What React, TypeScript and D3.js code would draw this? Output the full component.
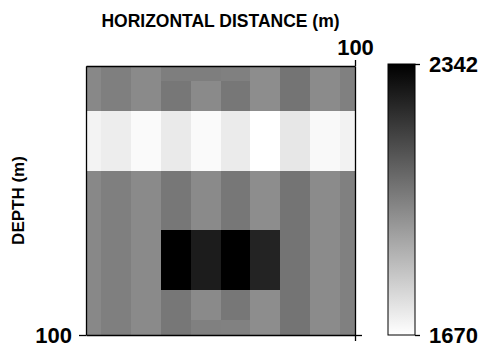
import React, { useRef, useEffect } from 'react';
import * as d3 from 'd3';

// cell centres (m)
const distances = [0, 11.1, 22.2, 33.3, 44.4, 55.6, 66.7, 77.8, 88.9, 100];
const depths = [0, 11.1, 22.2, 33.3, 44.4, 55.6, 66.7, 77.8, 88.9, 100];

// velocity per depth row (m/s), read from the grey levels
const velocity = [
    [1984, 2007, 1978, 2010, 2010, 2005, 1970, 2036, 1976, 2005],
    [1984, 2007, 1978, 2028, 1978, 2028, 1970, 2036, 1976, 2005],
    [1702, 1717, 1683, 1725, 1683, 1723, 1670, 1733, 1686, 1704],
    [1702, 1717, 1683, 1725, 1683, 1723, 1670, 1733, 1686, 1704],
    [1984, 2007, 1978, 2028, 1978, 2028, 1970, 2036, 1976, 2005],
    [1984, 2007, 1978, 2028, 1978, 2028, 1970, 2036, 1976, 2005],
    [1984, 2007, 1978, 2342, 2268, 2342, 2250, 2036, 1976, 2005],
    [1984, 2007, 1978, 2342, 2268, 2342, 2250, 2036, 1976, 2005],
    [1984, 2007, 1978, 2028, 1978, 2028, 1970, 2036, 1976, 2005],
    [1984, 2007, 1978, 2028, 2005, 2002, 1970, 2036, 1976, 2005]
];

const colorMin = 1670;
const colorMax = 2342;
const axisTicks = [100];

// cell edges: halfway between neighbouring centres, clipped to the axis
const edges = (centres: number[]) => centres.map((c, i) => [
    i === 0 ? 0 : (centres[i - 1] + c) / 2,
    i === centres.length - 1 ? 100 : (c + centres[i + 1]) / 2
]);

const App: React.FC = () => {
    const svgRef = useRef<SVGSVGElement | null>(null);

    useEffect(() => {
        const svg = d3.select(svgRef.current);
        svg.selectAll('*').remove();
        const width = 485;
        const height = 350;
        const font = 'Liberation Sans, Arial, sans-serif';

        svg.attr('width', width).attr('height', height).style('display', 'block');

        const x = d3.scaleLinear().domain([0, 100]).range([86, 355]);
        const y = d3.scaleLinear().domain([0, 100]).range([66, 335]);
        const color = d3.scaleLinear<string>()
            .domain([colorMin, colorMax])
            .range(['#ffffff', '#000000']);

        const xe = edges(distances);
        const ye = edges(depths);

        const cells = [];
        depths.forEach((d, i) => {
            distances.forEach((h, j) => {
                cells.push({
                    x0: Math.round(x(xe[j][0])), x1: Math.round(x(xe[j][1])),
                    y0: Math.round(y(ye[i][0])), y1: Math.round(y(ye[i][1])),
                    v: velocity[i][j]
                });
            });
        });

        svg.append('g')
            .attr('shape-rendering', 'crispEdges')
            .selectAll('rect')
            .data(cells)
            .enter()
            .append('rect')
            .attr('x', c => c.x0)
            .attr('y', c => c.y0)
            .attr('width', c => c.x1 - c.x0)
            .attr('height', c => c.y1 - c.y0)
            .attr('fill', c => color(c.v));

        // axes / frame
        const styleAxis = (g, showText) => {
            g.selectAll('path').attr('stroke', '#000').attr('stroke-width', 1.3);
            g.selectAll('line').attr('stroke', '#000').attr('stroke-width', 1.3);
            g.selectAll('text')
                .style('font-family', font)
                .style('font-size', '22px')
                .style('font-weight', 'bold')
                .attr('fill', '#000')
                .style('display', showText ? null : 'none');
        };

        svg.append('g')
            .attr('transform', `translate(0,${y(0)})`)
            .call(d3.axisTop(x).tickValues(axisTicks).tickSize(6).tickSizeOuter(0).tickPadding(5).tickFormat(d3.format('d')))
            .call(g => styleAxis(g, true));

        svg.append('g')
            .attr('transform', `translate(0,${y(100)})`)
            .call(d3.axisBottom(x).tickValues(axisTicks).tickSize(6).tickSizeOuter(0))
            .call(g => styleAxis(g, false));

        svg.append('g')
            .attr('transform', `translate(${x(0)},0)`)
            .call(d3.axisLeft(y).tickValues(axisTicks).tickSize(7).tickSizeOuter(0).tickPadding(7).tickFormat(d3.format('d')))
            .call(g => styleAxis(g, true));

        svg.append('g')
            .attr('transform', `translate(${x(100)},0)`)
            .call(d3.axisRight(y).tickValues(axisTicks).tickSize(7).tickSizeOuter(0))
            .call(g => styleAxis(g, false));

        // titles
        svg.append('text')
            .attr('x', (x(0) + x(100)) / 2)
            .attr('y', 27)
            .attr('text-anchor', 'middle')
            .style('font-family', font)
            .style('font-size', '17.5px')
            .style('font-weight', 'bold')
            .text('HORIZONTAL DISTANCE (m)');

        svg.append('text')
            .attr('transform', `translate(24,${(y(0) + y(100)) / 2}) rotate(-90)`)
            .attr('text-anchor', 'middle')
            .style('font-family', font)
            .style('font-size', '17px')
            .style('font-weight', 'bold')
            .text('DEPTH (m)');

        // colour bar
        const cb = d3.scaleLinear().domain([colorMin, colorMax]).range([335, 64]);
        const cbX = 388;
        const cbW = 27;

        const grad = svg.append('defs')
            .append('linearGradient')
            .attr('id', 'cbgrad')
            .attr('x1', 0).attr('y1', 1)
            .attr('x2', 0).attr('y2', 0);
        grad.selectAll('stop')
            .data([colorMin, colorMax])
            .enter()
            .append('stop')
            .attr('offset', (d, i) => i)
            .attr('stop-color', d => color(d));

        svg.append('rect')
            .attr('x', cbX)
            .attr('y', cb(colorMax))
            .attr('width', cbW)
            .attr('height', cb(colorMin) - cb(colorMax))
            .attr('fill', 'url(#cbgrad)')
            .attr('stroke', '#000')
            .attr('stroke-width', 1);

        svg.append('g')
            .attr('transform', `translate(${cbX + cbW},0)`)
            .call(d3.axisRight(cb).tickValues([colorMin, colorMax]).tickSize(5).tickPadding(9).tickFormat(d3.format('d')))
            .call(g => g.select('.domain').remove())
            .call(g => styleAxis(g, true));
    }, []);

    return (
        <div style={{ position: 'absolute', left: 0, top: 0 }}>
            <svg ref={svgRef}></svg>
        </div>
    );
};

export default App;
